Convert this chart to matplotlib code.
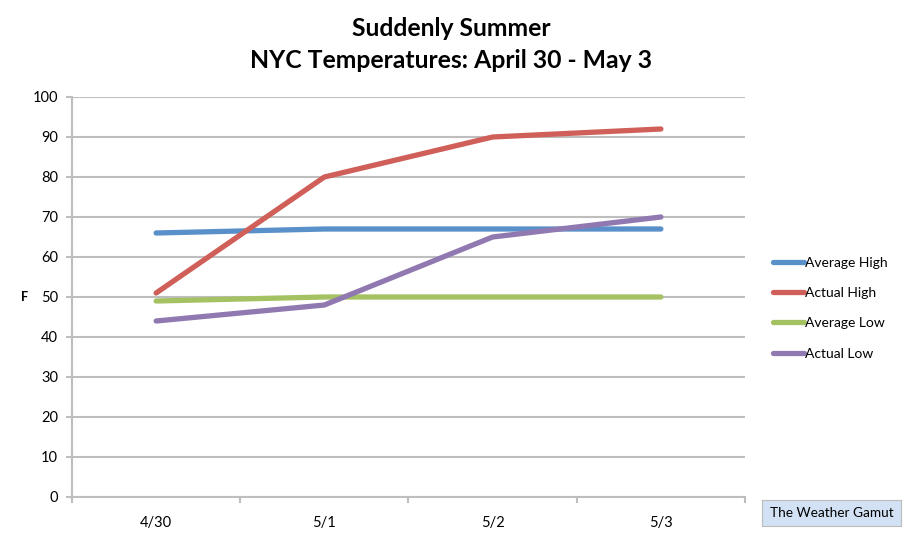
import matplotlib
matplotlib.use("Agg")
import matplotlib.pyplot as plt
import numpy as np

dates = ["4/30", "5/1", "5/2", "5/3"]
average_high = [66, 67, 67, 67]
actual_high = [51, 80, 90, 92]
average_low = [49, 50, 50, 50]
actual_low = [44, 48, 65, 70]
y_ticks = [0, 10, 20, 30, 40, 50, 60, 70, 80, 90, 100]

series = [
    ("Average High", average_high, "#5A90C9"),
    ("Actual High", actual_high, "#CF5F58"),
    ("Average Low", average_low, "#A5C263"),
    ("Actual Low", actual_low, "#9079B0"),
]

plt.rcParams['font.family'] = ['Lato', 'DejaVu Sans']

fig = plt.figure(figsize=(9.04, 5.33), dpi=100)
ax = fig.add_axes([72/904, 1-497/533, (745-72)/904, (497-97)/533])

x = np.arange(len(dates))
for name, vals, col in series:
    ax.plot(x, vals, color=col, lw=3.8, solid_capstyle='round', label=name)

ax.set_xlim(-0.5, len(dates)-0.5)
ax.set_ylim(0, 100)
ax.set_yticks(y_ticks)
ax.yaxis.grid(True, color="#BEBEBE", lw=1.5)
ax.set_axisbelow(True)
for s in ["top", "right"]:
    ax.spines[s].set_visible(False)
for s in ["left", "bottom"]:
    ax.spines[s].set_color("#BEBEBE")
    ax.spines[s].set_linewidth(1.5)
ax.tick_params(axis='y', length=4, width=1.5, color="#BEBEBE", labelsize=10.5, pad=6)
ax.set_xticks(np.arange(-0.5, len(dates)), labels=[""]*(len(dates)+1))
ax.set_xticks(x, labels=dates, minor=True)
ax.tick_params(axis='x', which='major', length=4, width=1.5, color="#BEBEBE")
ax.tick_params(axis='x', which='minor', length=0, labelsize=10.5, pad=14)

fig.text(25/904, 1-297/533, "F", fontsize=9, fontweight='bold', ha='center', va='center')

fig.text(451/904, 1-29/533, "Suddenly Summer", fontsize=17.8, fontweight='bold', ha='center', va='center')
fig.text(451/904, 1-61/533, "NYC Temperatures: April 30 - May 3", fontsize=17.8, fontweight='bold', ha='center', va='center')

leg = fig.legend(loc='upper left', bbox_to_anchor=(767/904, 1-251/533), frameon=False,
                 fontsize=10, handlelength=2.3, handletextpad=0.05, labelspacing=1.32,
                 borderaxespad=0)

fig.text(831.5/904, 1-513/533, "The Weather Gamut", fontsize=9.8, ha='center', va='center',
         bbox=dict(boxstyle='square,pad=0.55', fc="#D2E2F4", ec="#BBBBBB", lw=0.8))

fig.savefig("out.png", dpi=100)
